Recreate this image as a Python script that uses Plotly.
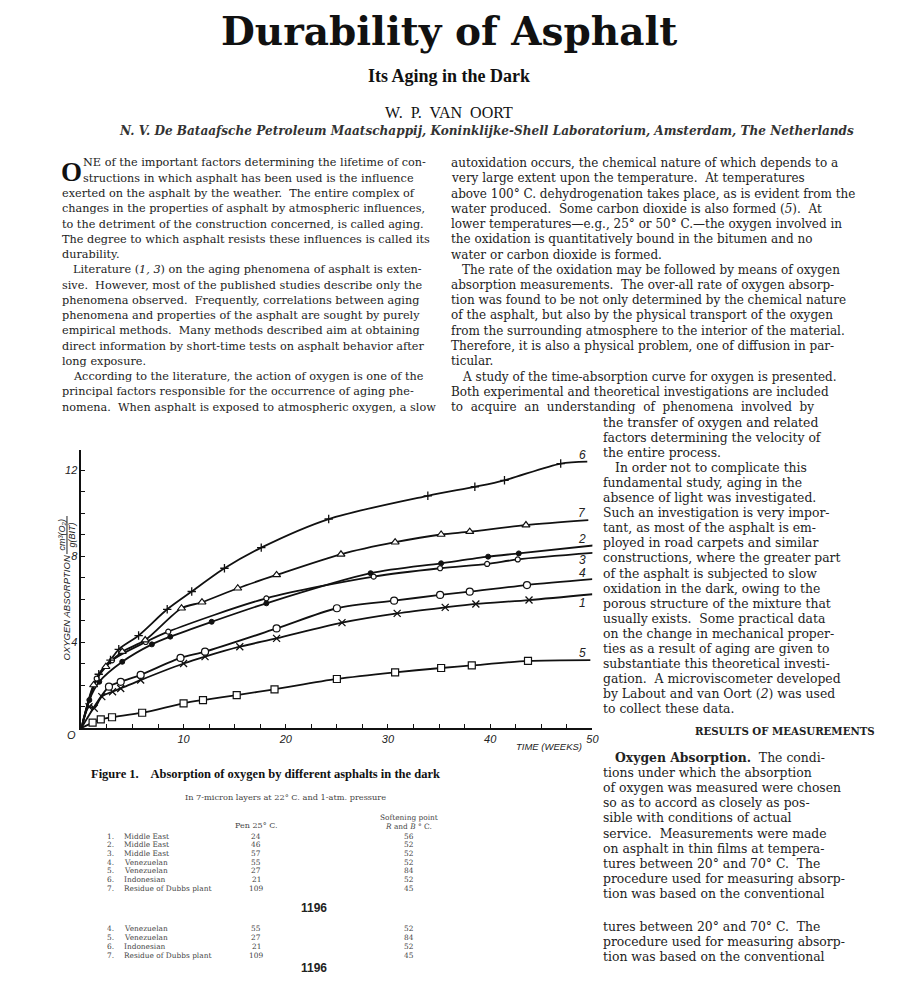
import plotly.graph_objects as go

# ---------------- data ----------------
c1_w = [0.75, 1.26, 2.0, 3.05, 3.85, 5.8, 10.0, 12.1, 15.5, 19.1, 25.5, 30.9, 35.6, 38.6, 43.8]
c1_v = [0.99, 0.92, 1.46, 1.69, 1.84, 2.23, 3.0, 3.32, 3.78, 4.17, 4.9, 5.33, 5.61, 5.77, 5.95]
c2_w = [0.78, 1.75, 4.0, 6.9, 8.7, 12.75, 18.1, 28.3, 35.2, 39.8, 42.8]
c2_v = [1.3, 2.15, 3.08, 3.89, 4.25, 4.94, 5.8, 7.2, 7.66, 7.97, 8.12]
c3_w = [1.5, 3.0, 6.3, 8.5, 18.1, 28.6, 35.1, 39.7, 42.7]
c3_v = [2.3, 3.15, 4.0, 4.48, 6.03, 7.04, 7.43, 7.63, 7.84]
c4_w = [2.7, 3.85, 5.8, 9.7, 12.1, 19.1, 25.0, 30.6, 35.1, 38.0, 43.6]
c4_v = [1.92, 2.15, 2.47, 3.26, 3.55, 4.63, 5.57, 5.92, 6.19, 6.34, 6.65]
c5_w = [1.1, 1.9, 3.0, 5.95, 10.0, 11.9, 15.2, 18.9, 25.0, 30.7, 35.2, 38.2, 43.7]
c5_v = [0.25, 0.4, 0.5, 0.71, 1.15, 1.3, 1.53, 1.8, 2.28, 2.59, 2.79, 2.91, 3.12]
c6_w = [1.7, 2.85, 3.66, 5.6, 8.4, 10.8, 14.0, 17.6, 24.2, 33.9, 38.5, 41.4, 46.9]
c6_v = [2.5, 3.16, 3.66, 4.3, 5.52, 6.35, 7.43, 8.39, 9.72, 10.8, 11.22, 11.52, 12.3]
c7_w = [1.2, 2.4, 4.0, 6.25, 9.8, 11.8, 15.3, 19.1, 25.4, 30.7, 35.2, 38.0, 43.5]
c7_v = [2.0, 2.85, 3.55, 4.09, 5.57, 5.85, 6.5, 7.12, 8.08, 8.64, 9.0, 9.13, 9.44]
end_w = {"1": 50.0, "2": 50.3, "3": 50.3, "4": 50.0, "5": 49.8, "6": 49.5, "7": 49.6}
end_v = {"1": 6.22, "2": 8.5, "3": 8.15, "4": 6.92, "5": 3.16, "6": 12.39, "7": 9.67}
curve_labels = ["6", "7", "2", "3", "4", "1", "5"]
label_v = [12.7, 9.99, 8.79, 7.81, 7.19, 5.83, 3.5]

x_ticks = [10, 20, 30, 40, 50]
y_ticks = [4, 8, 12]

title = "Durability of Asphalt"
subtitle = "Its Aging in the Dark"
author = "W.  P.  VAN  OORT"
affil = "N. V. De Bataafsche Petroleum Maatschappij, Koninklijke-Shell Laboratorium, Amsterdam, The Netherlands"

# (indent flag, text)
col1 = [
    (2, "NE of the important factors determining the lifetime of con-"),
    (3, "structions in which asphalt has been used is the influence"),
    (0, "exerted on the asphalt by the weather.  The entire complex of"),
    (0, "changes in the properties of asphalt by atmospheric influences,"),
    (0, "to the detriment of the construction concerned, is called aging."),
    (0, "The degree to which asphalt resists these influences is called its"),
    (0, "durability."),
    (1, "Literature (<i>1, 3</i>) on the aging phenomena of asphalt is exten-"),
    (0, "sive.  However, most of the published studies describe only the"),
    (0, "phenomena observed.  Frequently, correlations between aging"),
    (0, "phenomena and properties of the asphalt are sought by purely"),
    (0, "empirical methods.  Many methods described aim at obtaining"),
    (0, "direct information by short-time tests on asphalt behavior after"),
    (0, "long exposure."),
    (1, "According to the literature, the action of oxygen is one of the"),
    (0, "principal factors responsible for the occurrence of aging phe-"),
    (0, "nomena.  When asphalt is exposed to atmospheric oxygen, a slow"),
]
col2 = [
    (0, "autoxidation occurs, the chemical nature of which depends to a"),
    (0, "very large extent upon the temperature.  At temperatures"),
    (0, "above 100° C. dehydrogenation takes place, as is evident from the"),
    (0, "water produced.  Some carbon dioxide is also formed (<i>5</i>).  At"),
    (0, "lower temperatures—e.g., 25° or 50° C.—the oxygen involved in"),
    (0, "the oxidation is quantitatively bound in the bitumen and no"),
    (0, "water or carbon dioxide is formed."),
    (1, "The rate of the oxidation may be followed by means of oxygen"),
    (0, "absorption measurements.  The over-all rate of oxygen absorp-"),
    (0, "tion was found to be not only determined by the chemical nature"),
    (0, "of the asphalt, but also by the physical transport of the oxygen"),
    (0, "from the surrounding atmosphere to the interior of the material."),
    (0, "Therefore, it is also a physical problem, one of diffusion in par-"),
    (0, "ticular."),
    (1, "A study of the time-absorption curve for oxygen is presented."),
    (0, "Both experimental and theoretical investigations are included"),
    (0, "to  acquire  an  understanding  of  phenomena  involved  by"),
]
col3 = [
    (0, "the transfer of oxygen and related"),
    (0, "factors determining the velocity of"),
    (0, "the entire process."),
    (1, "In order not to complicate this"),
    (0, "fundamental study, aging in the"),
    (0, "absence of light was investigated."),
    (0, "Such an investigation is very impor-"),
    (0, "tant, as most of the asphalt is em-"),
    (0, "ployed in road carpets and similar"),
    (0, "constructions, where the greater part"),
    (0, "of the asphalt is subjected to slow"),
    (0, "oxidation in the dark, owing to the"),
    (0, "porous structure of the mixture that"),
    (0, "usually exists.  Some practical data"),
    (0, "on the change in mechanical proper-"),
    (0, "ties as a result of aging are given to"),
    (0, "substantiate this theoretical investi-"),
    (0, "gation.  A microviscometer developed"),
    (0, "by Labout and van Oort (<i>2</i>) was used"),
    (0, "to collect these data."),
]
col4 = [
    (1, "<b>Oxygen Absorption.</b>  The condi-"),
    (0, "tions under which the absorption"),
    (0, "of oxygen was measured were chosen"),
    (0, "so as to accord as closely as pos-"),
    (0, "sible with conditions of actual"),
    (0, "service.  Measurements were made"),
    (0, "on asphalt in thin films at tempera-"),
    (0, "tures between 20° and 70° C.  The"),
    (0, "procedure used for measuring absorp-"),
    (0, "tion was based on the conventional"),
]
col5 = col4[7:]

tab_num = ["1.", "2.", "3.", "4.", "5.", "6.", "7."]
tab_name = ["Middle East", "Middle East", "Middle East", "Venezuelan", "Venezuelan", "Indonesian", "Residue of Dubbs plant"]
tab_pen = ["24", "46", "57", "55", "27", "21", "109"]
tab_soft = ["56", "52", "52", "52", "84", "52", "45"]

# ---------------- figure ----------------
W, H = 905, 983
fig = go.Figure()

def py(p):
    return 1 - p / H

def px(p):
    return p / W

INK = "#111"
curves = [
    ("1", c1_w, c1_v, dict(symbol="x-thin-open", size=7, color=INK, line=dict(width=1.3, color=INK))),
    ("2", c2_w, c2_v, dict(symbol="circle", size=5, color=INK, line=dict(width=1, color=INK))),
    ("3", c3_w, c3_v, dict(symbol="circle", size=5, color="white", line=dict(width=1.2, color=INK))),
    ("4", c4_w, c4_v, dict(symbol="circle", size=7, color="white", line=dict(width=1.2, color=INK))),
    ("5", c5_w, c5_v, dict(symbol="square", size=7, color="white", line=dict(width=1.2, color=INK))),
    ("6", c6_w, c6_v, dict(symbol="cross-thin-open", size=6, color=INK, line=dict(width=1.3, color=INK))),
    ("7", c7_w, c7_v, dict(symbol="triangle-up", size=7, color="white", line=dict(width=1.2, color=INK))),
]
for name, w, v, mk in curves:
    fig.add_trace(go.Scatter(
        x=[0] + w + [end_w[name]], y=[0] + v + [end_v[name]],
        mode="lines", line=dict(color=INK, width=1.8, shape="spline", smoothing=0.8),
        hoverinfo="skip", showlegend=False))
for name, w, v, mk in curves:
    fig.add_trace(go.Scatter(x=w, y=v, mode="markers", marker=mk, showlegend=False))

x0p, x1p = 82, 597
y0p, y1p = 728, 450
ymax = (y0p - y1p) / 21.5

xtv = [i * 2.5 for i in range(1, 21)]
xtt = [str(int(t)) if t in x_ticks else "" for t in xtv]
ytv = list(range(1, 13))
ytt = [str(t) if t in y_ticks else "" for t in ytv]

tickfont = dict(family="Liberation Sans", size=11, color="#222", style="italic")
fig.update_layout(
    width=W, height=H, margin=dict(l=0, r=0, t=0, b=0),
    paper_bgcolor="white", plot_bgcolor="white",
    xaxis=dict(domain=[px(x0p), px(x1p)], range=[0, 50], showgrid=False, zeroline=False,
               showline=True, linecolor=INK, linewidth=1.6, ticks="inside", ticklen=4,
               tickcolor=INK, tickvals=xtv, ticktext=xtt, tickfont=tickfont),
    yaxis=dict(domain=[py(y0p), py(y1p)], range=[0, ymax], showgrid=False, zeroline=False,
               showline=True, linecolor=INK, linewidth=1.6, ticks="inside", ticklen=4,
               tickcolor=INK, tickvals=ytv, ticktext=ytt, tickfont=tickfont),
)

ann = []
def text(x, y, s, size=11.7, anchor="left", bold=False, italic=False, family="Liberation Serif",
         color="#222", angle=0, yanchor="middle"):
    ann.append(dict(x=px(x), y=py(y), xref="paper", yref="paper", text=s, showarrow=False,
                    xanchor=anchor, yanchor=yanchor, textangle=angle,
                    font=dict(family=family, size=size, color=color,
                              weight="bold" if bold else "normal",
                              style="italic" if italic else "normal")))

BODY = "DejaVu Serif"

# header
text(453, 31, title, size=39, anchor="center", bold=True, family="DejaVu Serif", color="#111")
text(453, 76, subtitle, size=18, anchor="center", bold=True, color="#111")
text(453, 112, author, size=16, anchor="center", color="#111")
text(490, 131, affil, size=12.1, anchor="center", italic=True, bold=True, family=BODY, color="#333")

# drop cap
text(59, 172, "O", size=27, bold=True, color="#111")
IND = {0: 0, 1: 12, 2: 22, 3: 22}
def column(lines, x, y0, dy, size):
    for i, (ind, s) in enumerate(lines):
        text(x + IND[ind], y0 + dy * i, s, size=size, family=BODY)

column(col1, 60, 163, 15.25, 11.25)
column(col2, 452, 163, 15.25, 12.0)
column(col3, 606, 422, 15.1, 12.4)
text(791, 731, "RESULTS OF MEASUREMENTS", size=10.2, anchor="center", bold=True, family=BODY, color="#222")
column(col4, 606, 757, 15.2, 12.4)
column(col5, 606, 926, 15.4, 12.4)

# chart labels
for lab, v in zip(curve_labels, label_v):
    ann.append(dict(x=49.0, y=v, xref="x", yref="y", text=lab, showarrow=False,
                    font=dict(family="Liberation Sans", size=12, color="#222", style="italic")))
text(72, 735, "O", size=11, anchor="center", family="Liberation Sans", italic=True)
text(553, 746, "TIME (WEEKS)", size=9.5, anchor="center", family="Liberation Sans", italic=True)
text(67, 608, "OXYGEN ABSORPTION", size=9.5, anchor="center",
     family="Liberation Sans", italic=True, angle=-90)
text(62, 535, "cm³(O₂)", size=9, anchor="center", family="Liberation Sans", italic=True, angle=-90)
text(73, 535, "g(BIT)", size=9, anchor="center", family="Liberation Sans", italic=True, angle=-90)
fig.add_shape(type="line", xref="paper", yref="paper", x0=px(67.5), x1=px(67.5),
              y0=py(516), y1=py(554), line=dict(color="#222", width=1))

# caption + table
TF = "DejaVu Serif"
TS = 7.4
text(90, 774, "Figure 1.    Absorption of oxygen by different asphalts in the dark",
     size=12.5, bold=True, color="#111")
text(288, 797, "In 7-micron layers at 22° C. and 1-atm. pressure", size=8.2, anchor="center", family=TF, color="#444")
text(258, 825, "Pen 25° C.", size=8, anchor="center", family=TF, color="#444")
text(412, 817, "Softening point", size=7.4, anchor="center", family=TF, color="#444")
text(412, 826, "<i>R</i> and <i>B</i> ° C.", size=7.4, anchor="center", family=TF, color="#444")

def table_row(i, yy):
    text(106, yy, tab_num[i], size=TS, family=TF, color="#444")
    text(123, yy, tab_name[i], size=TS, family=TF, color="#444")
    text(258, yy, tab_pen[i], size=TS, anchor="center", family=TF, color="#444")
    text(412, yy, tab_soft[i], size=TS, anchor="center", family=TF, color="#444")

for i in range(7):
    table_row(i, 836 + 8.67 * i)
text(316, 908, "1196", size=12, anchor="center", bold=True, family="Liberation Sans", color="#222")
for k, i in enumerate(range(3, 7)):
    table_row(i, 928 + 9 * k)
text(316, 968, "1196", size=12, anchor="center", bold=True, family="Liberation Sans", color="#222")

fig.update_layout(annotations=ann)
fig.write_html("out.html")
